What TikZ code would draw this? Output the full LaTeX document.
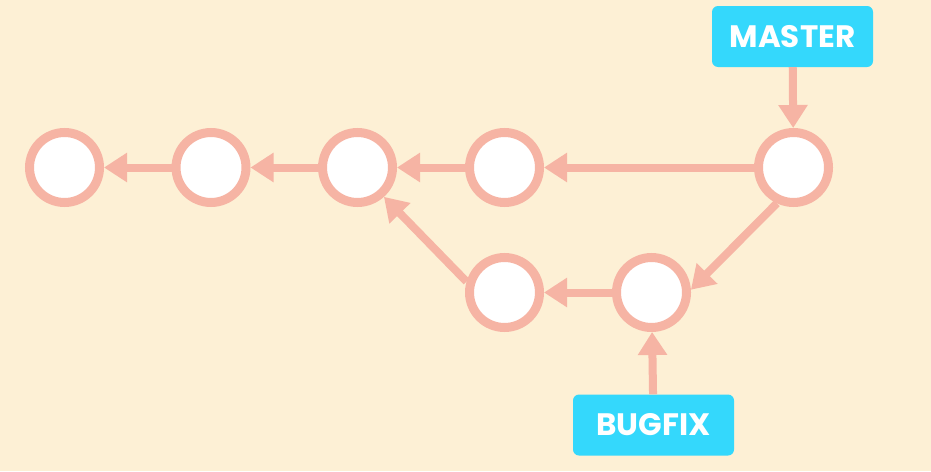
\documentclass[tikz,border=0pt]{standalone}
\usepackage{fontspec}
\setmainfont{Poppins}
\usetikzlibrary{arrows.meta}
\definecolor{bgc}{HTML}{FDF0D5}
\definecolor{salmon}{HTML}{F6B4A4}
\definecolor{cyanbox}{HTML}{34D8FC}
\tikzset{
  commit/.style={circle, draw=salmon, line width=9pt, fill=white, inner sep=0pt, minimum size=70pt},
  branch/.style={fill=cyanbox, rounded corners=6pt, minimum width=161pt, minimum height=61pt, inner sep=0pt,
    text=white, font=\fontsize{31}{32}\selectfont\bfseries},
  link/.style={draw=salmon, line width=8pt, -{Triangle[length=23pt, width=28pt]}}
}
\begin{document}
\begin{tikzpicture}[x=1pt, y=-1pt]
\fill[bgc] (0,0) rectangle (931,471);
\useasboundingbox (0,0) rectangle (931,471);
\node[commit] (c1) at (64.5,167.5) {};
\node[commit] (c2) at (211,167.5) {};
\node[commit] (c3) at (357.5,167.5) {};
\node[commit] (c4) at (504.5,167.5) {};
\node[commit] (m) at (793.5,167.5) {};
\node[commit] (b1) at (504.5,292.5) {};
\node[commit] (b2) at (651.5,292.5) {};
\node[branch] (master) at (792.5,36.5) {MASTER};
\node[branch] (bugfix) at (653.5,425) {BUGFIX};
\draw[link] (m) -- (c4);
\draw[link] (c4) -- (c3);
\draw[link] (c3) -- (c2);
\draw[link] (c2) -- (c1);
\draw[link] (m.245) -- (b2.4);
\draw[link] (b2) -- (b1);
\draw[link] (b1.164) -- (c3.312);
\draw[link] (master) -- (m);
\draw[link] (bugfix) -- (b2);
\end{tikzpicture}
\end{document}
